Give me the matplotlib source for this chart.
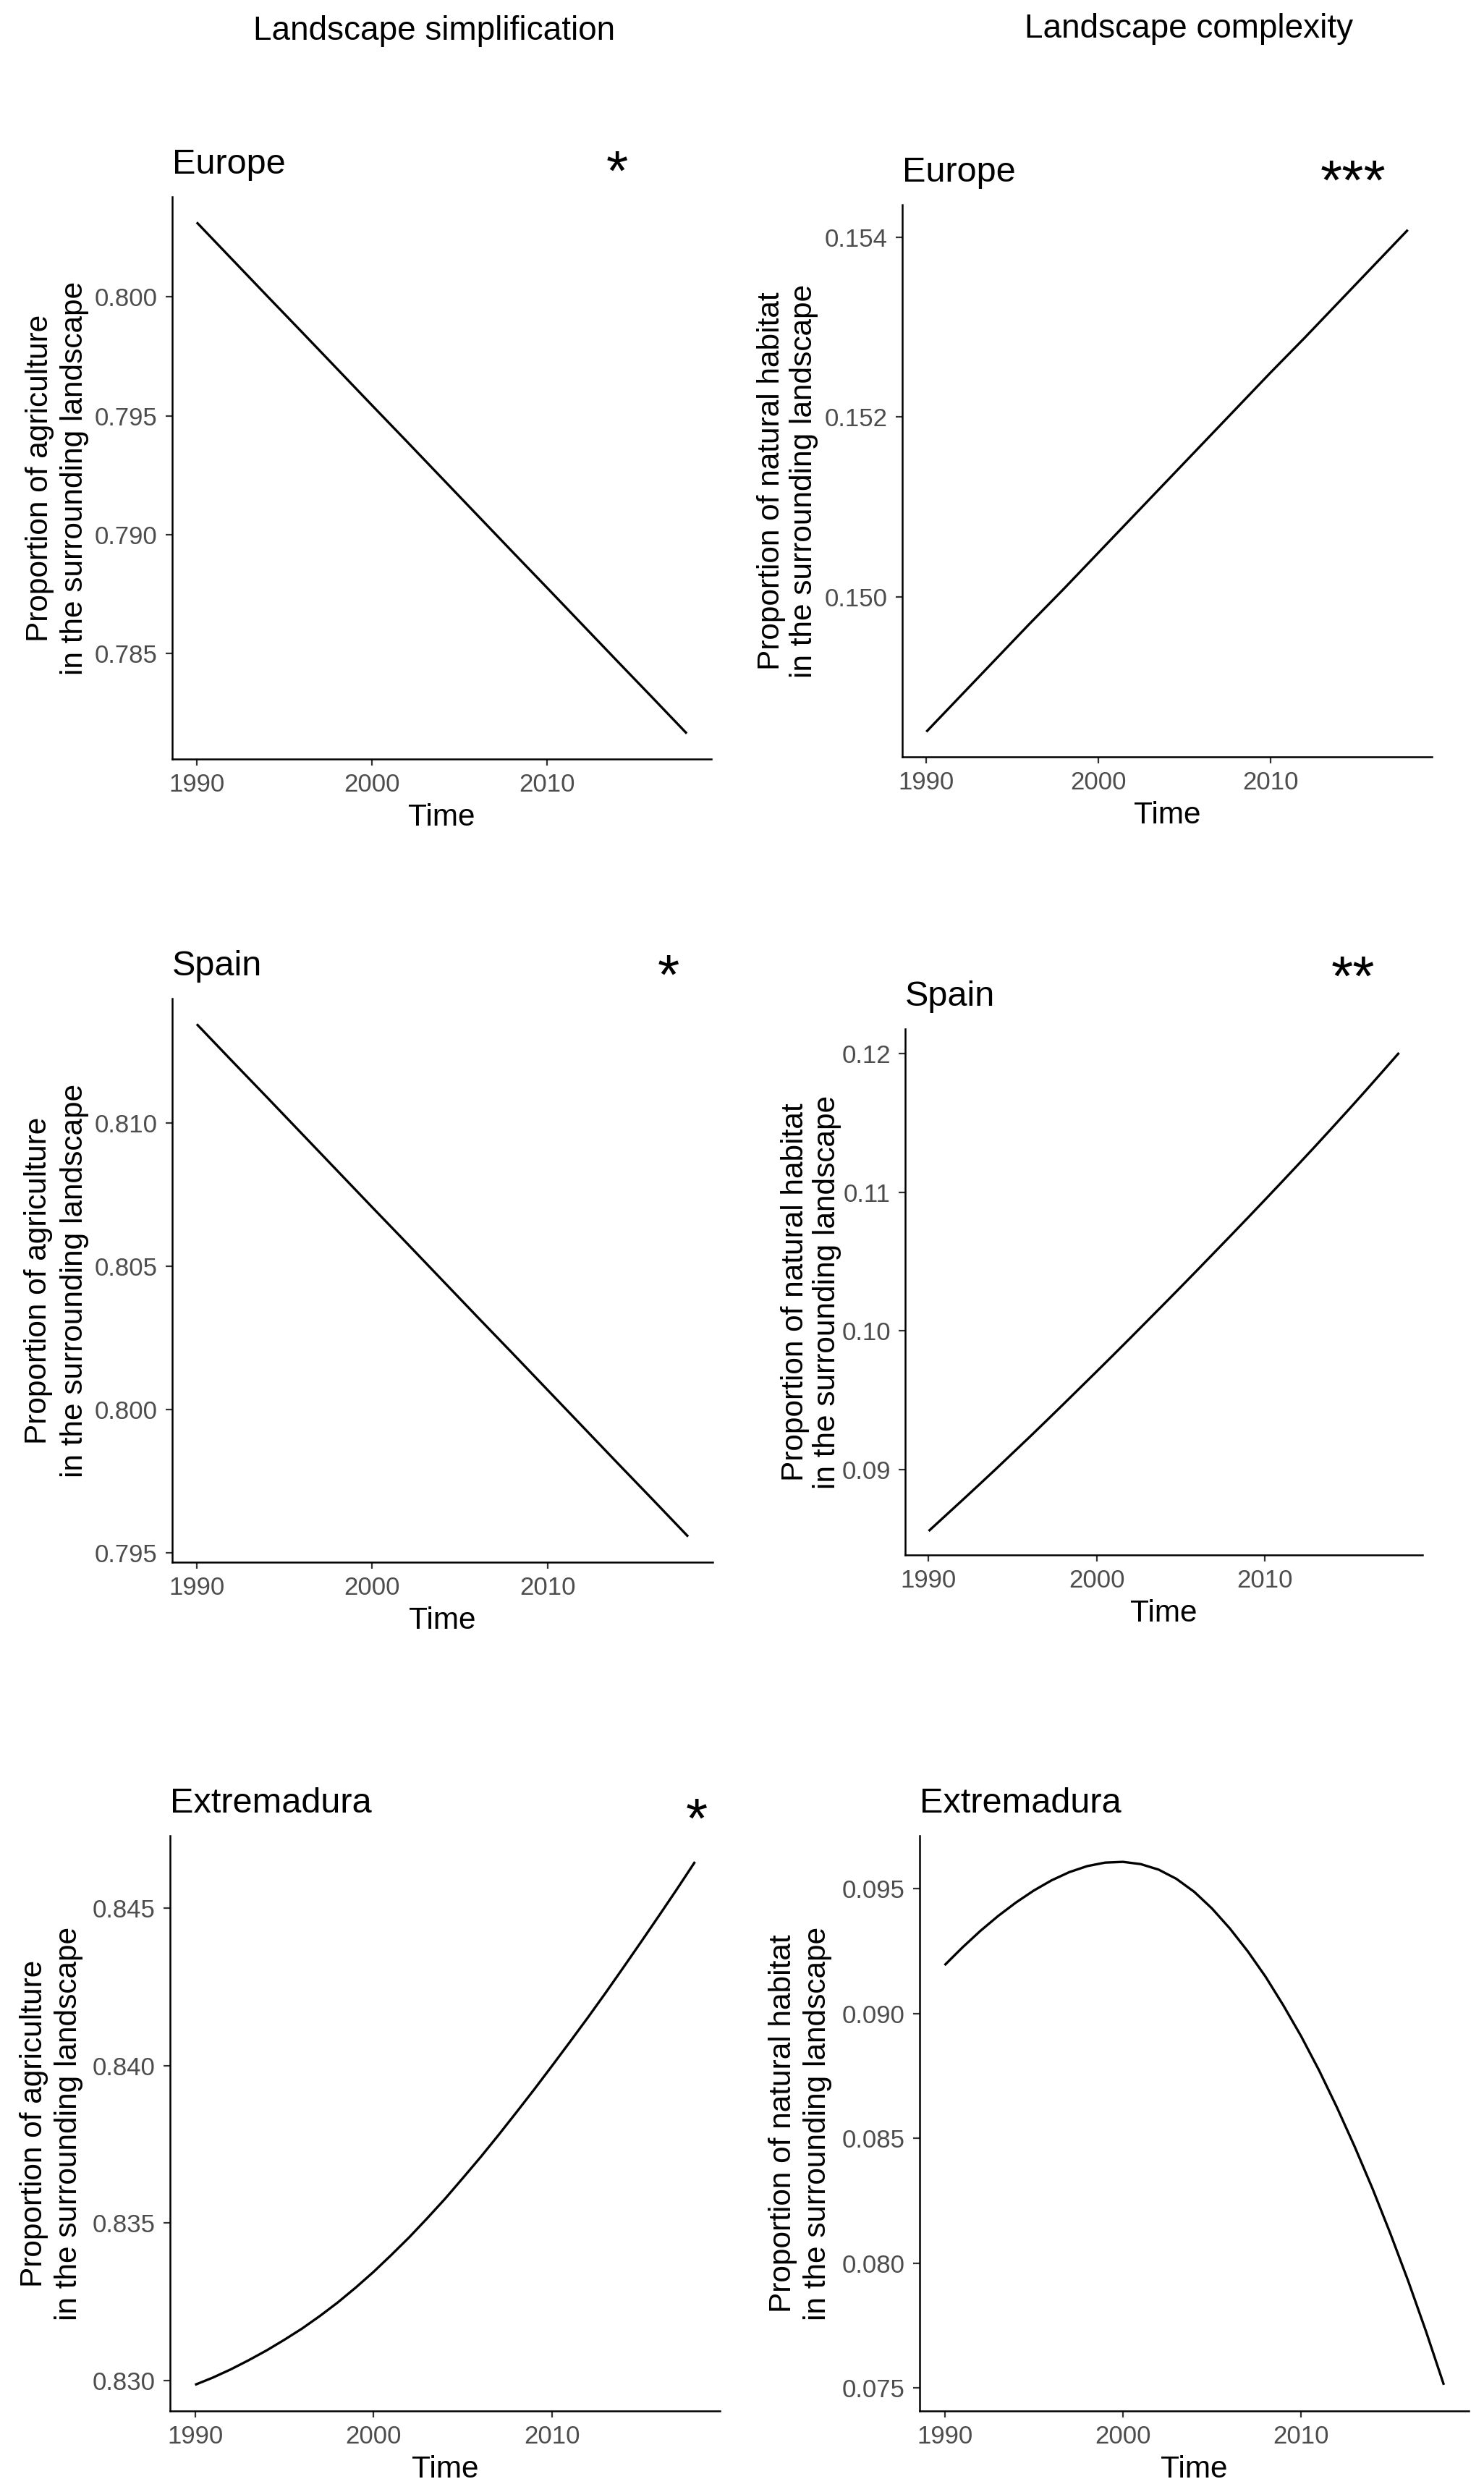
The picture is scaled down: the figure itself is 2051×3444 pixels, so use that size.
import matplotlib
matplotlib.use("Agg")
import matplotlib.pyplot as plt
from matplotlib.ticker import FormatStrFormatter

plt.rcParams['font.family'] = ['Liberation Sans', 'DejaVu Sans']

# ---------------- data ----------------
years2 = [1990, 1992, 1994, 1996, 1998, 2000, 2002, 2004, 2006, 2008,
          2010, 2012, 2014, 2016, 2018]
years1 = [1990, 1991, 1992, 1993, 1994, 1995, 1996, 1997, 1998, 1999,
          2000, 2001, 2002, 2003, 2004, 2005, 2006, 2007, 2008, 2009,
          2010, 2011, 2012, 2013, 2014, 2015, 2016, 2017, 2018]

europe_agri = [0.80314, 0.80160, 0.80006, 0.79853, 0.79699, 0.79545, 0.79392,
               0.79238, 0.79084, 0.78930, 0.78777, 0.78623, 0.78469, 0.78316,
               0.78162]
europe_nat = [0.14850, 0.14890, 0.14930, 0.14970, 0.15009, 0.15049, 0.15089,
              0.15129, 0.15169, 0.15209, 0.15249, 0.15288, 0.15328, 0.15368,
              0.15408]
spain_agri = [0.81344, 0.81216, 0.81089, 0.80961, 0.80833, 0.80705, 0.80578,
              0.80450, 0.80322, 0.80195, 0.80067, 0.79939, 0.79811, 0.79684,
              0.79556]
spain_nat = [0.08558, 0.08669, 0.08780, 0.08892, 0.09005, 0.09120, 0.09235,
             0.09352, 0.09470, 0.09589, 0.09708, 0.09828, 0.09949, 0.10071,
             0.10193, 0.10316, 0.10440, 0.10565, 0.10690, 0.10816, 0.10943,
             0.11071, 0.11200, 0.11330, 0.11462, 0.11595, 0.11730, 0.11867,
             0.12005]
extr_agri = [0.82986, 0.83009, 0.83035, 0.83064, 0.83095, 0.83129, 0.83165,
             0.83205, 0.83248, 0.83295, 0.83345, 0.83399, 0.83455, 0.83515,
             0.83577, 0.83643, 0.83710, 0.83780, 0.83852, 0.83925, 0.84000,
             0.84076, 0.84153, 0.84232, 0.84313, 0.84395, 0.84478, 0.84562,
             0.84648]
extr_nat = [0.09193, 0.09264, 0.09330, 0.09390, 0.09444, 0.09492, 0.09533,
            0.09566, 0.09590, 0.09604, 0.09607, 0.09598, 0.09576, 0.09539,
            0.09487, 0.09420, 0.09340, 0.09249, 0.09147, 0.09032, 0.08908,
            0.08772, 0.08624, 0.08466, 0.08298, 0.08118, 0.07928, 0.07726,
            0.07512]

x_ticks = [1990, 2000, 2010]
yticks_europe_agri = [0.785, 0.790, 0.795, 0.800]
yticks_europe_nat = [0.150, 0.152, 0.154]
yticks_spain_agri = [0.795, 0.800, 0.805, 0.810]
yticks_spain_nat = [0.09, 0.10, 0.11, 0.12]
yticks_extr_agri = [0.830, 0.835, 0.840, 0.845]
yticks_extr_nat = [0.075, 0.080, 0.085, 0.090, 0.095]

col_titles = ["Landscape simplification", "Landscape complexity"]
regions = ["Europe", "Spain", "Extremadura"]
signif = [["*", "***"], ["*", "**"], ["*", ""]]
ylab_agri = ["Proportion of agriculture", "in the surrounding landscape"]
ylab_nat = ["Proportion of natural habitat", "in the surrounding landscape"]
xlabel = "Time"

# ---------------- layout (pixels) ----------------
W, H = 2051, 3444
fig = plt.figure(figsize=(W / 100, H / 100), dpi=100)
fig.patch.set_facecolor('white')


def fx(px):
    return px / W


def fy(py):
    return 1 - py / H


panels = [
    dict(x=years2, y=europe_agri, yt=yticks_europe_agri, fmt='%.3f', yl=ylab_agri,
         title=regions[0], star=signif[0][0], box=(238, 983, 272, 1049),
         ylx=(66, 114), star_xy=(853, 220)),
    dict(x=years2, y=europe_nat, yt=yticks_europe_nat, fmt='%.3f', yl=ylab_nat,
         title=regions[0], star=signif[0][1], box=(1247, 1979, 283, 1046),
         ylx=(1077, 1122), star_xy=(1870, 233)),
    dict(x=years2, y=spain_agri, yt=yticks_spain_agri, fmt='%.3f', yl=ylab_agri,
         title=regions[1], star=signif[1][0], box=(238, 985, 1380, 2159),
         ylx=(64, 114), star_xy=(924, 1331)),
    dict(x=years1, y=spain_nat, yt=yticks_spain_nat, fmt='%.2f', yl=ylab_nat,
         title=regions[1], star=signif[1][1], box=(1251, 1966, 1422, 2149),
         ylx=(1110, 1154), star_xy=(1870, 1333)),
    dict(x=years1, y=extr_agri, yt=yticks_extr_agri, fmt='%.3f', yl=ylab_agri,
         title=regions[2], star=signif[2][0], box=(235, 995, 2537, 3332),
         ylx=(58, 106), star_xy=(963, 2497)),
    dict(x=years1, y=extr_nat, yt=yticks_extr_nat, fmt='%.3f', yl=ylab_nat,
         title=regions[2], star=signif[2][1], box=(1271, 2030, 2537, 3332),
         ylx=(1093, 1141), star_xy=(None, None)),
]

TICK_FS = 25
LAB_FS = 30.5
TITLE_FS = 35
STAR_FS = 56
TICK_COLOR = '#4D4D4D'

for p in panels:
    x0, x1, y0, y1 = p['box']
    ax = fig.add_axes([fx(x0), fy(y1), (x1 - x0) / W, (y1 - y0) / H])
    ax.plot(p['x'], p['y'], color='black', linewidth=2.4,
            solid_capstyle='butt', solid_joinstyle='round')
    ax.margins(x=0.05, y=0.05)
    ax.set_xlim(1988.6, 2019.4)
    ax.set_xticks(x_ticks)
    ax.set_yticks(p['yt'])
    ax.yaxis.set_major_formatter(FormatStrFormatter(p['fmt']))
    for s in ['top', 'right']:
        ax.spines[s].set_visible(False)
    for s in ['left', 'bottom']:
        ax.spines[s].set_linewidth(1.8)
        ax.spines[s].set_color('black')
    ax.tick_params(axis='both', direction='out', length=6.5, width=1.6,
                   color='#333333', labelsize=TICK_FS, labelcolor=TICK_COLOR)
    ax.tick_params(axis='y', pad=8)
    ax.tick_params(axis='x', pad=7)
    ax.set_facecolor('white')

    # panel title
    fig.text(fx(x0), fy(y0 - 32), p['title'], fontsize=TITLE_FS,
             ha='left', va='baseline', color='black')
    # significance stars
    if p['star']:
        sx, sy = p['star_xy']
        fig.text(fx(sx), fy(sy + 43), p['star'], fontsize=STAR_FS,
                 ha='center', va='baseline', color='black')
    # y label (two lines)
    cy = (y0 + y1) / 2
    for line, bx in zip(p['yl'], p['ylx']):
        fig.text(fx(bx), fy(cy), line, fontsize=LAB_FS, rotation=90,
                 rotation_mode='anchor', ha='center', va='baseline',
                 color='black')
    # x label
    fig.text(fx((x0 + x1) / 2), fy(y1 + 92), xlabel, fontsize=LAB_FS,
             ha='center', va='baseline', color='black')

# column titles
fig.text(fx(600), fy(55), col_titles[0], fontsize=33, ha='center',
         va='baseline', color='black')
fig.text(fx(1643), fy(52), col_titles[1], fontsize=33, ha='center',
         va='baseline', color='black')

fig.savefig('out.png', dpi=100, facecolor='white')
